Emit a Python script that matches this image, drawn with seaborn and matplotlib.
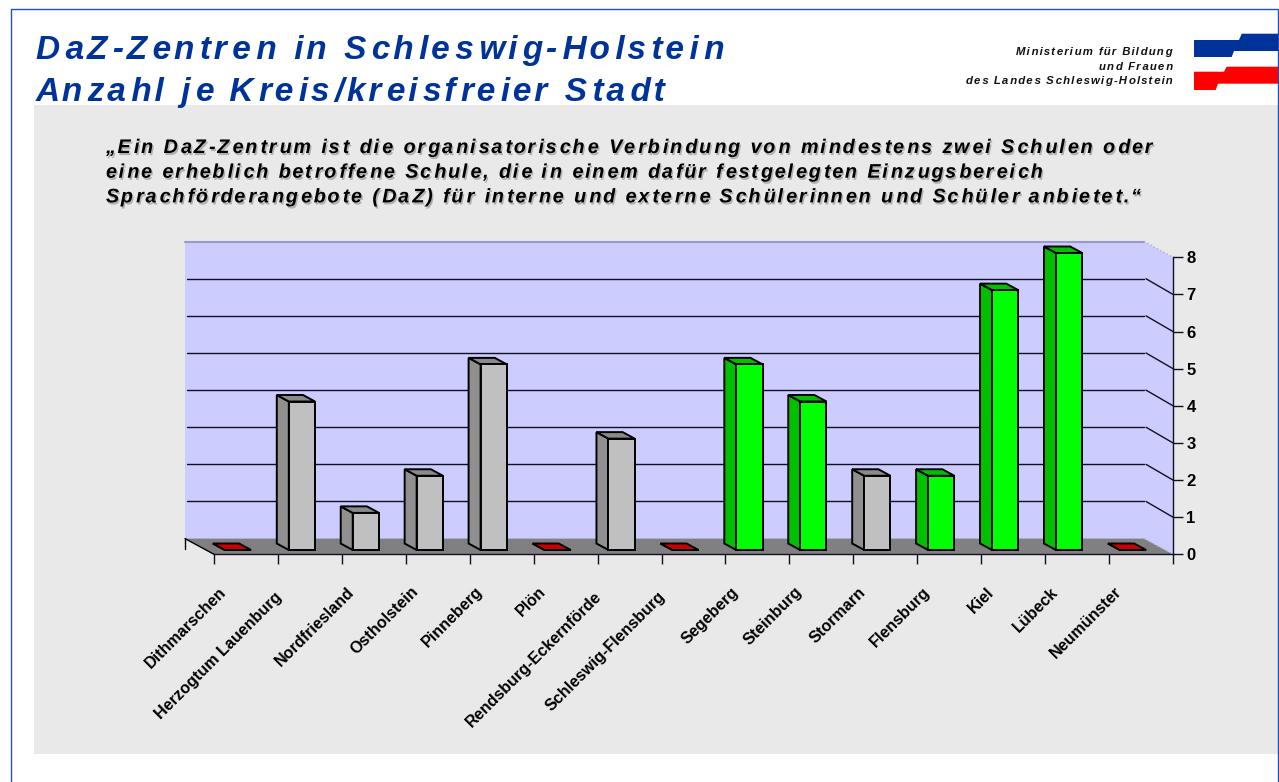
import matplotlib
matplotlib.use('Agg')
import matplotlib.pyplot as plt
import matplotlib.patheffects as pe
from matplotlib.patches import Polygon, Rectangle
from matplotlib.transforms import ScaledTranslation
import seaborn as sns

kreise = ['Dithmarschen', 'Herzogtum Lauenburg', 'Nordfriesland', 'Ostholstein', 'Pinneberg',
          'Plön', 'Rendsburg-Eckernförde', 'Schleswig-Flensburg', 'Segeberg', 'Steinburg',
          'Stormarn', 'Flensburg', 'Kiel', 'Lübeck', 'Neumünster']
anzahl = [0, 4, 1, 2, 5, 0, 3, 0, 5, 4, 2, 2, 7, 8, 0]
gruen = ['Segeberg', 'Steinburg', 'Flensburg', 'Kiel', 'Lübeck']
y_ticks = [0, 1, 2, 3, 4, 5, 6, 7, 8]

titel = ['DaZ-Zentren in Schleswig-Holstein', 'Anzahl je Kreis/kreisfreier Stadt']
zitat = ['„Ein DaZ-Zentrum ist die organisatorische Verbindung von mindestens zwei Schulen oder',
         'eine erheblich betroffene Schule, die in einem dafür festgelegten Einzugsbereich',
         'Sprachförderangebote (DaZ) für interne und externe Schülerinnen und Schüler anbietet.“']
ministerium = ['Ministerium für Bildung', 'und Frauen', 'des Landes Schleswig-Holstein']

W, H = 1279, 782
# pixel layout of the front plane of the chart
LEFT, RIGHT, Y0, Y8 = 214, 1173, 554.3, 257.3
PX_X = (RIGHT - LEFT) / 15
PX_Y = (Y0 - Y8) / 8


def fx(x):
    return x / W


def fy(y):
    return 1 - y / H


def spaced(s, n=1.0):
    # matplotlib has no letter spacing, hair spaces do the job (n = average per gap)
    out = ''
    done = 0
    for i, c in enumerate(s):
        out += c
        if i < len(s) - 1:
            k = round((i + 1) * n) - done
            out += '\u200a' * k
            done += k
    return out


sns.set_style('white')
plt.rcParams['font.family'] = ['Liberation Sans', 'DejaVu Sans']

fig = plt.figure(figsize=(W / 100, H / 100), dpi=100, facecolor='white')
ax = fig.add_axes([fx(LEFT), fy(Y0), (RIGHT - LEFT) / W, (Y0 - Y8) / H], zorder=5)
ax.patch.set_visible(False)

# page frame and grey panel
fig.add_artist(Rectangle((fx(34), fy(754)), 1, fy(105) - fy(754), transform=fig.transFigure,
                         fc='#E9E9E9', ec='none', zorder=-2))
fig.add_artist(Rectangle((fx(10.5), -0.1), fx(1278) - fx(10.5), fy(8.5) + 0.1, transform=fig.transFigure,
                         fc='none', ec='#1F50B8', lw=1, zorder=-1))

# logo
blau = [(1194, 40), (1239, 40), (1241.7, 33.7), (1278, 33.7), (1278, 51), (1234, 51), (1231.7, 57), (1194, 57)]
rot = [(1194, 71.7), (1224, 71.7), (1226.7, 66.7), (1278, 66.7), (1278, 83.7), (1218, 83.7), (1215.7, 90), (1194, 90)]
for pts, c in [(blau, '#003399'), (rot, '#FF0000')]:
    fig.add_artist(Polygon([(fx(a), fy(b)) for a, b in pts], transform=fig.transFigure, fc=c, ec='none'))

for i, (line, n) in enumerate(zip(titel, [1.55, 1.44])):
    fig.text(fx(36), fy(59 + i * 41.5), spaced(line, n), color='#003399', fontsize=24, fontweight='bold',
             fontstyle='italic', va='baseline')
for i, (line, n) in enumerate(zip(zitat, [1.47, 1.38, 1.44])):
    fig.text(fx(106), fy(153 + i * 24.7), spaced(line, n), color='black', fontsize=14.2, fontweight='bold',
             fontstyle='italic', va='baseline',
             path_effects=[pe.SimplePatchShadow(offset=(1, -1.5), shadow_rgbFace='#999999', alpha=0.7), pe.Normal()])
for i, line in enumerate(ministerium):
    fig.text(fx(1173), fy(55 + i * 14.5), spaced(line, 1.3), color='#111111', fontsize=8.2, fontweight='bold',
             fontstyle='italic', ha='right', va='baseline')

# offsets in data units
back_x, back_y = 29 / PX_X, 15.7 / PX_Y        # back wall
front_x, front_y = 8 / PX_X, 4.3 / PX_Y        # front face of the bars
deep_x, deep_y = 12 / PX_X, 6.5 / PX_Y         # depth of the bars

front_farben = {'grau': '#C0C0C0', 'gruen': '#00FF00', 'rot': '#CC0000'}
seite_farben = {'grau': '#909090', 'gruen': '#00C000', 'rot': '#CC0000'}
oben_farben = {'grau': '#8A8A8A', 'gruen': '#00C000', 'rot': '#CC0000'}
gruppe = ['rot' if v == 0 else 'gruen' if k in gruen else 'grau' for k, v in zip(kreise, anzahl)]

sns.barplot(x=kreise, y=anzahl, hue=kreise, palette=[front_farben[g] for g in gruppe], width=0.41,
            dodge=False, legend=False, edgecolor='black', linewidth=1.4, saturation=1, ax=ax, zorder=6)
ax.set_xlim(-0.5, 14.5)
ax.set_ylim(0, 8)

# walls, floor and grid
x0, x1 = -0.5, 14.5
ax.add_patch(Polygon([(x0 - back_x, back_y), (x1 - back_x, back_y), (x1 - back_x, 8 + back_y), (x0 - back_x, 8 + back_y)],
                     fc='#CCCCFF', ec='none', zorder=1, clip_on=False))
ax.add_patch(Polygon([(x1 - back_x, back_y), (x1, 0), (x1, 8), (x1 - back_x, 8 + back_y)],
                     fc='#CCCCFF', ec='none', zorder=1, clip_on=False))
ax.add_patch(Polygon([(x0 - back_x, back_y), (x1 - back_x, back_y), (x1, 0), (x0, 0)],
                     fc='#808080', ec='none', zorder=1.5, clip_on=False))
ax.plot([x0 - back_x, x1 - back_x], [8 + back_y, 8 + back_y], color='#9999CC', lw=1.5, zorder=2, clip_on=False)
ax.plot([x1 - back_x, x1], [8 + back_y, 8], color='#AAAADD', lw=1, ls=':', zorder=2, clip_on=False)
ax.plot([x1 - back_x, x1], [back_y, 0], color='#AAAADD', lw=1, ls=':', zorder=2, clip_on=False)
ax.plot([x0 - back_x, x0], [back_y, 0], color='black', lw=1, zorder=2, clip_on=False)
ax.plot([x0 - back_x, x0 - back_x], [back_y, back_y - 10 / PX_Y], color='black', lw=1, zorder=2, clip_on=False)
for v in y_ticks[1:-1]:
    ax.plot([x0 - back_x + 2 / PX_X, x1 - back_x], [v + back_y, v + back_y], color='#101020', lw=1, zorder=2, clip_on=False)
    ax.plot([x1 - back_x + 2 / PX_X, x1], [v + back_y, v], color='#101020', lw=1, zorder=2, clip_on=False)

# third dimension of the bars, taken from the bars seaborn drew
bars = [p for p in ax.patches if isinstance(p, Rectangle)]
bars = sorted([b for b in bars if b.get_width() < 1], key=lambda b: b.get_x() + b.get_width() / 2)
for bar, g in zip(bars, gruppe):
    bar.set_x(bar.get_x() - front_x)
    bar.set_y(front_y)
    bar.set_clip_on(False)
    l, r = bar.get_x(), bar.get_x() + bar.get_width()
    b, t = front_y, front_y + bar.get_height()
    ax.add_patch(Polygon([(l, b), (l, t), (l - deep_x, t + deep_y), (l - deep_x, b + deep_y)],
                         fc=seite_farben[g], ec='black', lw=1.4, zorder=5.5, clip_on=False))
    ax.add_patch(Polygon([(l, t), (r, t), (r - deep_x, t + deep_y), (l - deep_x, t + deep_y)],
                         fc=oben_farben[g], ec='black', lw=1.4, zorder=5.5, clip_on=False))

# axes
sns.despine(ax=ax, left=True, top=True, right=False, bottom=False)
for s in ['right', 'bottom']:
    ax.spines[s].set_linewidth(1)
    ax.spines[s].set_color('#101020')
    ax.spines[s].set_zorder(7)
ax.yaxis.tick_right()
ax.set_yticks(y_ticks, [str(v) for v in y_ticks], fontsize=12, fontweight='bold', color='black')
ax.tick_params(axis='y', length=7.2, width=1, color='#101020', pad=2.5, right=True, left=False)
ax.set_xticks([v + 0.5 for v in range(-1, 15)], minor=True)
ax.tick_params(axis='x', which='minor', length=7.2, width=1, color='#101020', bottom=True)
ax.set_xticks(range(len(kreise)), kreise, fontsize=11.6, fontweight='bold', color='black', rotation=45,
              ha='right', rotation_mode='anchor')
ax.tick_params(axis='x', which='major', length=0, pad=21.5)
for lab in ax.get_xticklabels():
    # the long names sit a bit lower in the original
    lang = len(lab.get_text()) >= 19
    shift = ScaledTranslation(-0.36 if lang else -0.27, -0.05 if lang else 0, fig.dpi_scale_trans)
    lab.set_transform(lab.get_transform() + shift)
ax.set_xlabel('')
ax.set_ylabel('')

fig.savefig('out.png', dpi=100)
